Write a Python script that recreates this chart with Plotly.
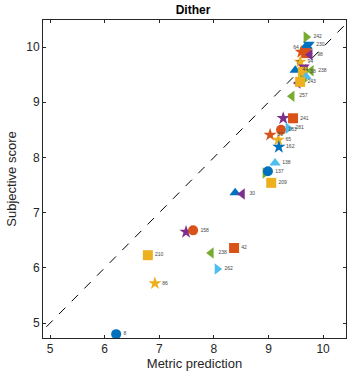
import plotly.graph_objects as go

# data
metric_pred = [9.69, 9.74, 9.69, 9.60, 9.69, 9.76, 9.58, 9.65, 9.49, 9.63, 9.78, 9.69, 9.63, 9.54, 9.58,
               9.43, 9.27, 9.45, 9.23, 9.36, 9.03, 9.18, 9.19, 9.12, 8.94, 8.99, 9.05, 8.39, 8.52,
               7.49, 7.62, 8.37, 7.95, 6.79, 8.06, 6.92, 6.21]
subjective = [10.18, 10.05, 9.98, 9.91, 9.89, 9.86, 9.73, 9.64, 9.58, 9.55, 9.57, 9.46, 9.40, 9.35, 9.37,
              9.11, 8.71, 8.71, 8.50, 8.53, 8.41, 8.32, 8.19, 7.90, 7.72, 7.75, 7.54, 7.36, 7.34,
              6.65, 6.68, 6.36, 6.27, 6.23, 5.98, 5.72, 4.80]
image_ids = ["242", "230", "64", "", "7", "98", "94", "", "44", "38", "238", "", "", "", "243",
             "257", "", "241", "183", "281", "30", "65", "162", "138", "", "137", "209", "", "30",
             "", "158", "42", "238", "210", "262", "86", "8"]

# styles
C = {"b": "#0072BD", "o": "#D95319", "y": "#EDB120", "p": "#7E2F8E",
     "g": "#77AC30", "c": "#4DBEEE"}
colors = ["g", "b", "b", "o", "o", "p", "y", "p", "b", "y", "g", "c", "g", "p", "y",
          "g", "p", "o", "o", "c", "o", "y", "b", "c", "g", "b", "y", "b", "p",
          "p", "o", "o", "g", "y", "c", "y", "b"]
symbols = ["triangle-right", "triangle-down", "diamond", "star", "square", "triangle-left", "star",
           "triangle-down", "triangle-up", "square", "triangle-left", "triangle-up", "triangle-right",
           "triangle-left", "square", "triangle-left", "star", "square", "circle", "triangle-right",
           "star", "star", "star", "triangle-up", "triangle-right", "circle", "square", "triangle-up",
           "triangle-left", "star", "circle", "square", "triangle-left", "square", "triangle-right",
           "star", "circle"]
text_pos = ["middle right"] * len(image_ids)
text_pos[2] = "middle left"
text_pos[4] = "bottom left"

fig = go.Figure()
fig.add_trace(go.Scatter(x=[4.7, 10.6], y=[4.7, 10.6], mode="lines",
                         line=dict(color="black", width=1, dash="dash"), hoverinfo="skip"))
fig.add_trace(go.Scatter(
    x=metric_pred, y=subjective, mode="markers+text", text=image_ids,
    textposition=text_pos, textfont=dict(size=5, color="#444444", family="Liberation Sans"),
    marker=dict(color=[C[c] for c in colors], symbol=symbols, size=10, line=dict(width=0)),
))

axis_common = dict(showgrid=False, zeroline=False, showline=True, linecolor="#262626", linewidth=1,
                   mirror="ticks", ticks="inside", ticklen=3, tickcolor="#262626",
                   tickfont=dict(size=12, color="#262626", family="Liberation Sans"),
                   dtick=1, tick0=5)
fig.update_xaxes(range=[4.87, 10.42], title=dict(text="Metric prediction", standoff=2,
                 font=dict(size=13, color="#262626", family="Liberation Sans")), **axis_common)
fig.update_yaxes(range=[4.73, 10.49], title=dict(text="Subjective score", standoff=6,
                 font=dict(size=13, color="#262626", family="Liberation Sans")), **axis_common)
fig.update_layout(
    width=351, height=385, margin=dict(l=43, r=5, t=20, b=47),
    paper_bgcolor="white", plot_bgcolor="white", showlegend=False,
    title=dict(text="<b>Dither</b>", x=0.55, xanchor="center", y=0.985, yanchor="top",
               font=dict(size=12, color="black", family="Liberation Sans")),
)
fig.write_html("out.html")
